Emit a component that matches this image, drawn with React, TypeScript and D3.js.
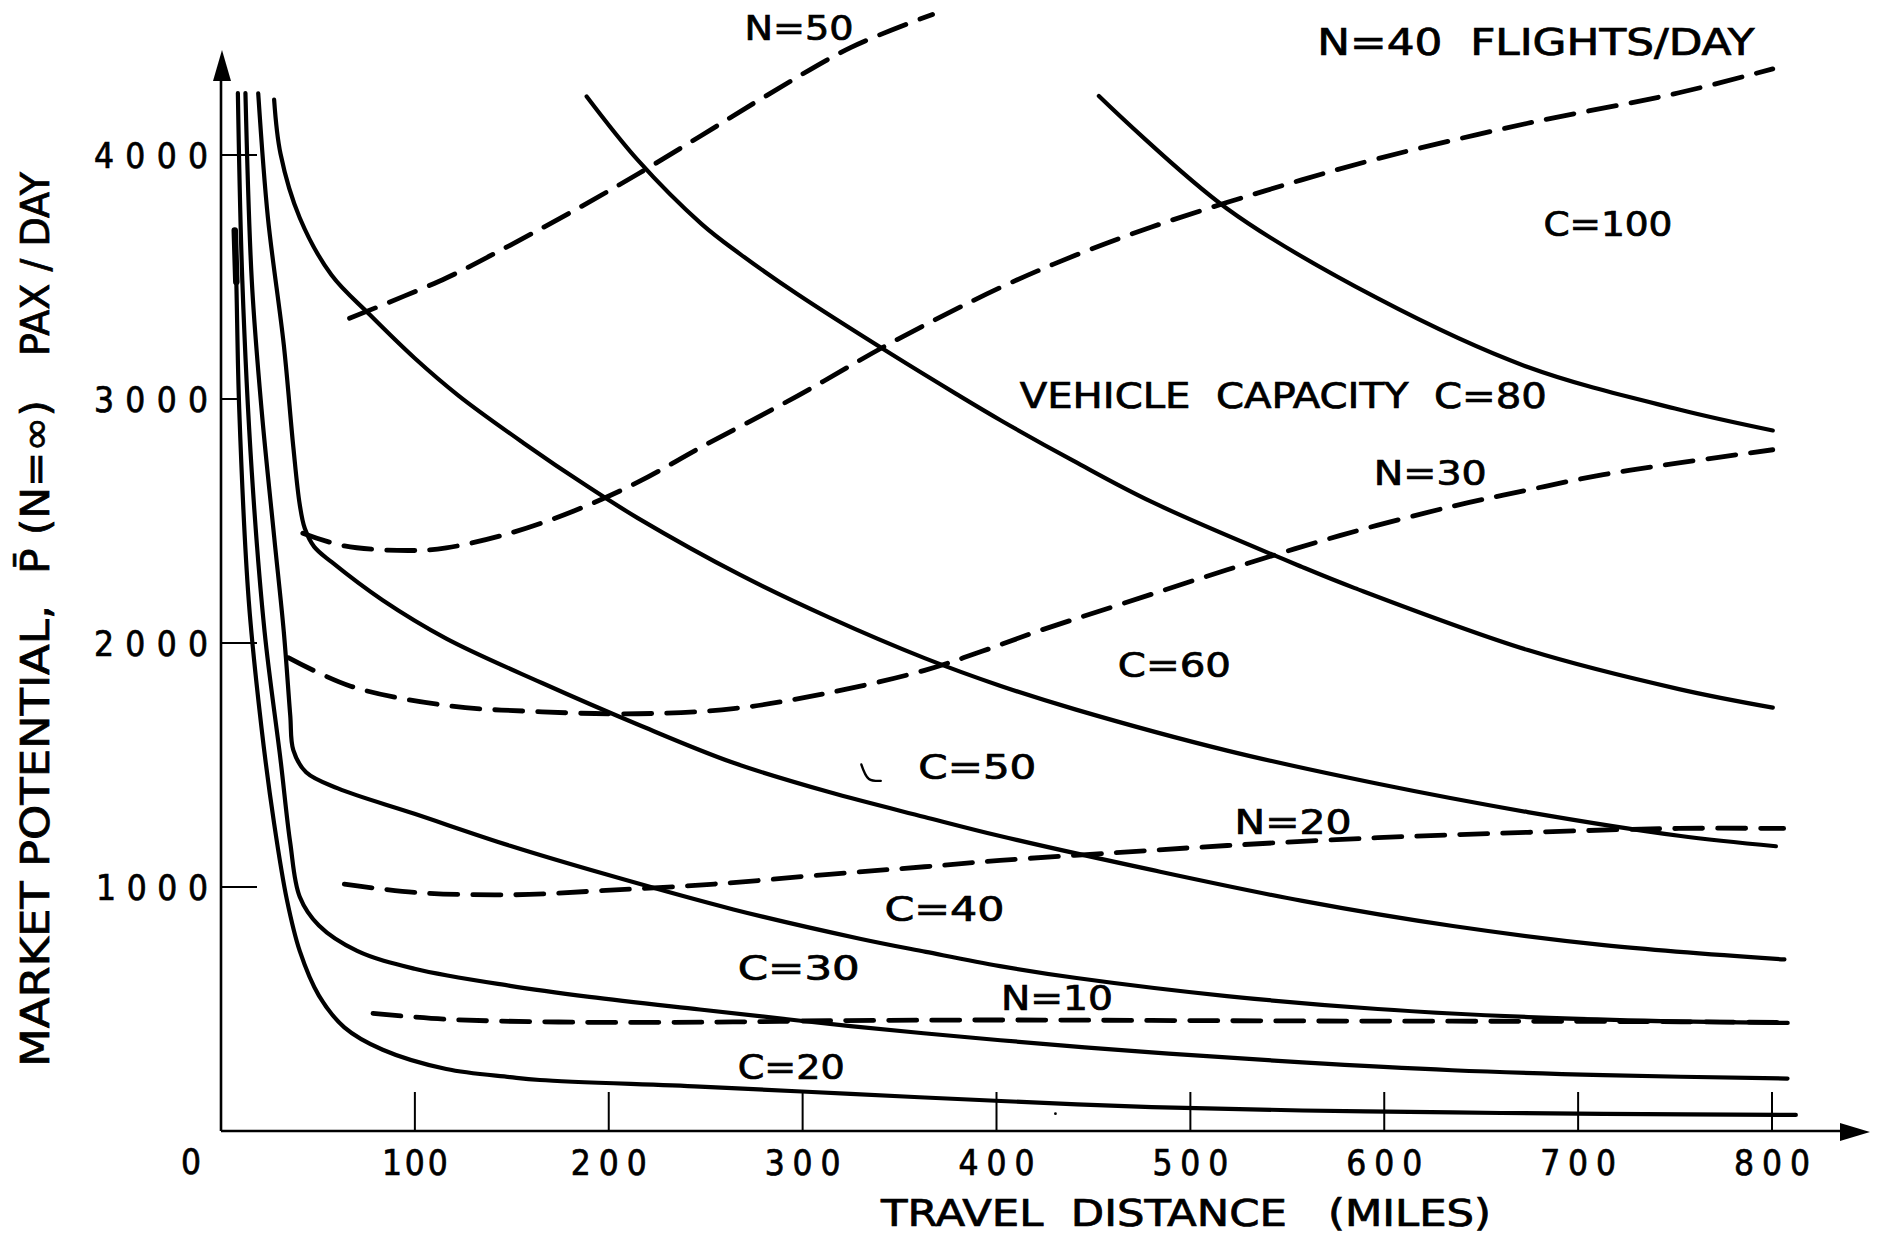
import React from 'react';
import * as d3 from 'd3';

type Pt = [number, number];

// Solid curves: market potential (pax/day) vs travel distance (miles), one per vehicle capacity C
const capC20: Pt[] = [
  [7.1, 3691], [7.9, 3480], [9.4, 2959], [14.3, 2175], [20.9, 1652], [27.4, 1260], [34.0, 947],
  [40.6, 738], [50.5, 555], [63.6, 425], [83.4, 333], [116.2, 254], [149.1, 221], [164.5, 209],
  [247, 182], [324.7, 152], [402.3, 123], [480.1, 98], [557.8, 84], [635.4, 76], [713.3, 70],
  [812.3, 66],
];
const capC30: Pt[] = [
  [8.7, 4254], [11.0, 3484], [15.9, 2698], [22.5, 2045], [30.7, 1522], [35.7, 1182], [40.6, 960],
  [50.5, 842], [70.2, 738], [99.8, 665], [149.1, 595], [190, 550], [247, 498], [324.7, 430],
  [402, 372], [480, 322], [557.8, 281], [635, 249], [713, 229], [808, 215],
];
const capC40: Pt[] = [
  [12.6, 4254], [15.9, 3482], [20.9, 2959], [27.4, 2437], [32.4, 2045], [35.7, 1705], [37.3, 1561],
  [43.9, 1470], [60.3, 1404], [99.8, 1300], [149.1, 1169], [198.5, 1052], [264.3, 908],
  [330.1, 787], [363.6, 734], [401.8, 676], [441.3, 627], [518.8, 553], [596.7, 500],
  [674.3, 467], [751.9, 449], [808.1, 443],
];
const capC50: Pt[] = [
  [19.2, 4253], [24.2, 3743], [32.4, 3221], [37.3, 2803], [40.6, 2568], [43.2, 2470], [48, 2395],
  [57.0, 2332], [83.4, 2175], [116.2, 2018], [165.6, 1836], [215, 1666], [264.3, 1509],
  [313.6, 1389], [362.9, 1287], [401.8, 1209], [480.1, 1070], [557.8, 943], [635.4, 840],
  [713.3, 762], [806.4, 703],
];
const capC60: Pt[] = [
  [27.4, 4227], [30.7, 4005], [40.6, 3743], [57.0, 3508], [76.8, 3345], [99.8, 3168],
  [122.8, 3012], [155.8, 2821], [188.6, 2644], [215, 2512], [267.6, 2280], [313.6, 2105],
  [362.9, 1938], [401.8, 1825], [441, 1727], [519, 1559], [596.7, 1423], [674, 1307],
  [752, 1210], [802, 1167],
];
const capC80: Pt[] = [
  [188.6, 4240], [215, 3979], [247.8, 3718], [267.6, 3595], [297.2, 3430], [346.5, 3180],
  [379.4, 3020], [402.3, 2912], [440, 2745], [480.1, 2578], [557.8, 2311], [584.8, 2225],
  [674.1, 1971], [752, 1811], [800.4, 1735],
];
const capC100: Pt[] = [
  [452.8, 4242], [518.8, 3781], [596.7, 3412], [674, 3131], [752, 2957], [800.4, 2871],
];

// Dashed curves: constant flight frequency N (flights/day)
const freqN10: Pt[] = [
  [78.4, 482], [116.2, 458], [182, 446], [264, 447], [313.6, 452], [401.8, 455], [480, 453],
  [557.8, 451], [635, 450], [713, 449], [808, 445],
];
const freqN20: Pt[] = [
  [63.6, 1012], [99.8, 978], [149.1, 968], [198.5, 986], [254.4, 1012], [313.6, 1052],
  [362.9, 1083], [401.8, 1109], [460.5, 1140], [519, 1170], [596.7, 1202], [674, 1224],
  [752, 1240], [806, 1240],
];
const freqN30: Pt[] = [
  [34.7, 1940], [66.9, 1823], [116.2, 1744], [165.6, 1718], [215, 1710], [264.3, 1731],
  [313.6, 1796], [362.9, 1888], [392.5, 1966], [422, 2050], [464.6, 2160], [519, 2300],
  [577, 2440], [635, 2560], [674, 2627], [713, 2690], [752, 2738], [800.4, 2792],
];
const freqN40: Pt[] = [
  [42.2, 2450], [63.6, 2398], [96.5, 2379], [116.2, 2390], [149.1, 2450], [182, 2541],
  [215, 2659], [247.8, 2803], [297.2, 3012], [346.5, 3234], [401.8, 3456], [441, 3590],
  [480, 3705], [538, 3852], [596.7, 3985], [674, 4130], [752, 4255], [800.4, 4353],
];
const freqN50: Pt[] = [
  [66.3, 3331], [116.2, 3496], [149.1, 3630], [182, 3772], [215, 3922], [247.8, 4080],
  [280.7, 4240], [324.7, 4440], [367, 4576],
];

// small pen stroke beside the C=50 label
const penHook: Pt[] = [[330.3, 1502], [334.2, 1443], [340.3, 1435]];

const xTickValues = [100, 200, 300, 400, 500, 600, 700, 800];
const yTickValues = [1000, 2000, 3000, 4000];

const capacitySeries = [capC20, capC30, capC40, capC50, capC60, capC80, capC100];
const frequencySeries = [freqN10, freqN20, freqN30, freqN40, freqN50];

// Curve annotations, anchored in data space (miles, pax/day) at the left of the text baseline
const annotations = [
  { text: 'N=50', at: [270, 4471] as Pt, len: 109, size: 34 },
  { text: 'N=40  FLIGHTS/DAY', at: [565.5, 4408] as Pt, len: 437, size: 37 },
  { text: 'C=100', at: [682.1, 3670] as Pt, len: 129, size: 34 },
  { text: 'VEHICLE  CAPACITY  C=80', at: [412, 2963] as Pt, len: 527, size: 36 },
  { text: 'N=30', at: [594.6, 2648] as Pt, len: 113, size: 34 },
  { text: 'C=60', at: [462.6, 1861] as Pt, len: 113, size: 34 },
  { text: 'C=50', at: [359.7, 1443] as Pt, len: 118, size: 34 },
  { text: 'N=20', at: [522.8, 1219] as Pt, len: 117, size: 34 },
  { text: 'C=40', at: [342.2, 861] as Pt, len: 120, size: 34 },
  { text: 'C=30', at: [266.5, 619] as Pt, len: 122, size: 34 },
  { text: 'N=10', at: [402.3, 496] as Pt, len: 112, size: 34 },
  { text: 'C=20', at: [266.5, 215] as Pt, len: 107, size: 34 },
];

const FONT = "'DejaVu Sans Condensed','DejaVu Sans',sans-serif";
const INK = '#000';

export default function App() {
  const width = 1881;
  const height = 1237;

  const x = d3.scaleLinear().domain([0, 800]).range([221, 1772]);
  const y = d3.scaleLinear().domain([0, 4000]).range([1131, 155]);

  const line = d3
    .line<Pt>()
    .x((d) => x(d[0]))
    .y((d) => y(d[1]))
    .curve(d3.curveCatmullRom.alpha(0.5));

  const x0 = x(0);
  const y0 = y(0);
  const xArrowTip = 1870;
  const yArrowTip = 50;

  const textInk = { fill: INK, stroke: INK, strokeWidth: 0.7 };

  return (
    <svg
      width={width}
      height={height}
      viewBox={`0 0 ${width} ${height}`}
      style={{ position: 'absolute', left: 0, top: 0, display: 'block', background: '#fff' }}
    >
      <rect x={0} y={0} width={width} height={height} fill="#fff" />

      {/* axes */}
      <g stroke={INK} strokeWidth={2.6} fill="none">
        <line x1={x0} y1={y0} x2={xArrowTip - 26} y2={y0} />
        <line x1={x0} y1={y0} x2={x0} y2={yArrowTip + 28} />
      </g>
      <path
        d={`M${xArrowTip},${y0 + 1} L${xArrowTip - 30},${y0 - 8} L${xArrowTip - 30},${y0 + 10} Z`}
        fill={INK}
      />
      <path
        d={`M${x0 + 1},${yArrowTip} L${x0 - 8},${yArrowTip + 31} L${x0 + 10},${yArrowTip + 31} Z`}
        fill={INK}
      />

      {/* x ticks */}
      {xTickValues.map((v) => (
        <g key={`xt${v}`}>
          <line x1={x(v)} x2={x(v)} y1={y0} y2={y0 - 39} stroke={INK} strokeWidth={2} />
          <text
            x={x(v)}
            y={1175}
            textAnchor="middle"
            fontFamily={FONT}
            fontSize={35}
            textLength={v === 100 ? 66 : 76}
            lengthAdjust="spacing"
            {...textInk}
          >
            {String(v)}
          </text>
        </g>
      ))}
      <text x={191} y={1174} textAnchor="middle" fontFamily={FONT} fontSize={35} {...textInk}>
        0
      </text>

      {/* y ticks */}
      {yTickValues.map((v) => (
        <g key={`yt${v}`}>
          <line
            x1={x0}
            x2={x0 + (v === 3000 ? 16 : 36)}
            y1={y(v)}
            y2={y(v)}
            stroke={INK}
            strokeWidth={2}
          />
          <text
            x={94}
            y={y(v) + 13}
            fontFamily={FONT}
            fontSize={35}
            textLength={v === 1000 ? 112 : 114}
            lengthAdjust="spacing"
            dx={v === 1000 ? 2 : 0}
            {...textInk}
          >
            {String(v)}
          </text>
        </g>
      ))}

      {/* capacity curves */}
      <g fill="none" stroke={INK} strokeWidth={4.2} strokeLinecap="round" strokeLinejoin="round">
        {capacitySeries.map((s, i) => (
          <path key={`c${i}`} d={line(s) ?? ''} />
        ))}
        <path d={line(capC20.slice(0, 2)) ?? ''} strokeWidth={6.5} />
        <path d={line(penHook) ?? ''} strokeWidth={2.4} />
      </g>

      {/* frequency curves */}
      <g
        fill="none"
        stroke={INK}
        strokeWidth={4.8}
        strokeLinecap="round"
        strokeDasharray="28 15"
      >
        {frequencySeries.map((s, i) => (
          <path key={`n${i}`} d={line(s) ?? ''} />
        ))}
      </g>

      <circle cx={x(430.4)} cy={y(71)} r={1.4} fill={INK} />

      {/* curve annotations */}
      {annotations.map((a) => (
        <text
          key={a.text}
          x={x(a.at[0])}
          y={y(a.at[1])}
          fontFamily={FONT}
          fontSize={a.size}
          textLength={a.len}
          lengthAdjust="spacingAndGlyphs"
          style={{ whiteSpace: 'pre' }}
          {...textInk}
        >
          {a.text}
        </text>
      ))}

      {/* axis titles */}
      <text
        x={881}
        y={1226}
        fontFamily={FONT}
        fontSize={37}
        textLength={610}
        lengthAdjust="spacingAndGlyphs"
        style={{ whiteSpace: 'pre' }}
        {...textInk}
      >
        {'TRAVEL  DISTANCE   (MILES)'}
      </text>
      <g fontFamily={FONT} fontSize={39} {...textInk}>
        <text transform="translate(49,1067) rotate(-90)" textLength={462} lengthAdjust="spacingAndGlyphs">
          MARKET POTENTIAL,
        </text>
        <text
          transform="translate(49,574) rotate(-90)"
          textLength={174}
          lengthAdjust="spacingAndGlyphs"
          style={{ whiteSpace: 'pre' }}
        >
          {'P\u0304 (N=\u221E)'}
        </text>
        <text
          transform="translate(49,356) rotate(-90)"
          textLength={184}
          lengthAdjust="spacingAndGlyphs"
          style={{ whiteSpace: 'pre' }}
        >
          {'PAX / DAY'}
        </text>
      </g>
    </svg>
  );
}
